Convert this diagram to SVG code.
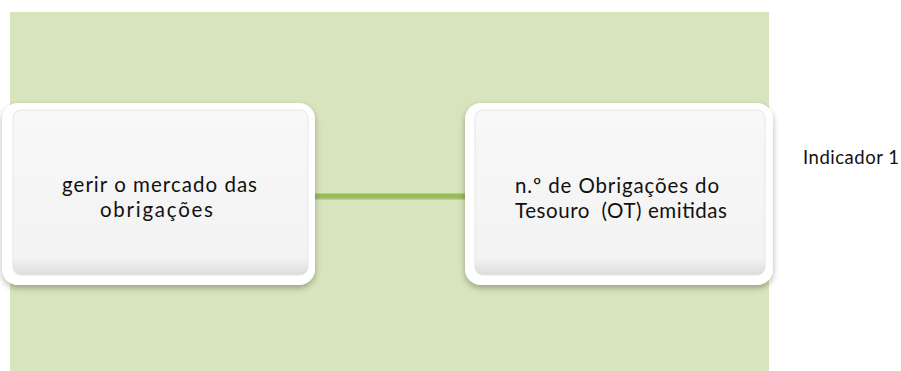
<svg xmlns="http://www.w3.org/2000/svg" width="901" height="371" viewBox="0 0 901 371">
<style>
.t{font-family:Lato,"Liberation Sans",sans-serif;font-size:20.5px;fill:#111;white-space:pre}
.outer{fill:#fff}
.inner{fill:url(#g);stroke:#e6e6e6;stroke-width:1}
</style>
<defs>
<linearGradient id="g" x1="0" y1="0" x2="0" y2="1">
<stop offset="0" stop-color="#f8f8f8"/>
<stop offset="0.9" stop-color="#f3f3f3"/>
<stop offset="1" stop-color="#dcdcdc"/>
</linearGradient>
<filter id="sh" x="-10%" y="-10%" width="120%" height="130%">
<feGaussianBlur in="SourceAlpha" stdDeviation="3"/>
<feOffset dx="0" dy="3"/>
<feComponentTransfer><feFuncA type="linear" slope="0.3"/></feComponentTransfer>
<feMerge><feMergeNode/><feMergeNode in="SourceGraphic"/></feMerge>
</filter>
</defs>
<rect x="0" y="0" width="901" height="371" fill="#fff"/>
<rect x="10" y="12" width="759" height="359" fill="#d8e4bc"/>
<g id="connectors">
<rect x="308" y="196" width="160" height="4" fill="#000" opacity="0.12"/>
<rect x="308" y="193.5" width="160" height="5" fill="#9bbb59"/>
</g>
<g id="node1">
<rect class="outer" x="2" y="103" width="313" height="182" rx="16" filter="url(#sh)"/>
<rect class="inner" x="13" y="110" width="295" height="165" rx="8"/>
<text class="t" x="62" y="192" textLength="195" lengthAdjust="spacing">gerir o mercado das</text>
<text class="t" x="100" y="217" textLength="113" lengthAdjust="spacing">obrigações</text>
</g>
<g id="node2">
<rect class="outer" x="465" y="103" width="308" height="182" rx="16" filter="url(#sh)"/>
<rect class="inner" x="475" y="110" width="290" height="165" rx="8"/>
<text class="t" x="515" y="193" textLength="204" lengthAdjust="spacing">n.º de Obrigações do</text>
<text class="t" x="515" y="218" textLength="212" lengthAdjust="spacing">Tesouro  (OT) emitidas</text>
</g>
<g id="label">
<text x="803" y="164" textLength="96" lengthAdjust="spacing" style="font-family:Lato,'Liberation Sans',sans-serif;font-size:18.5px;fill:#111">Indicador 1</text>
</g>
</svg>
